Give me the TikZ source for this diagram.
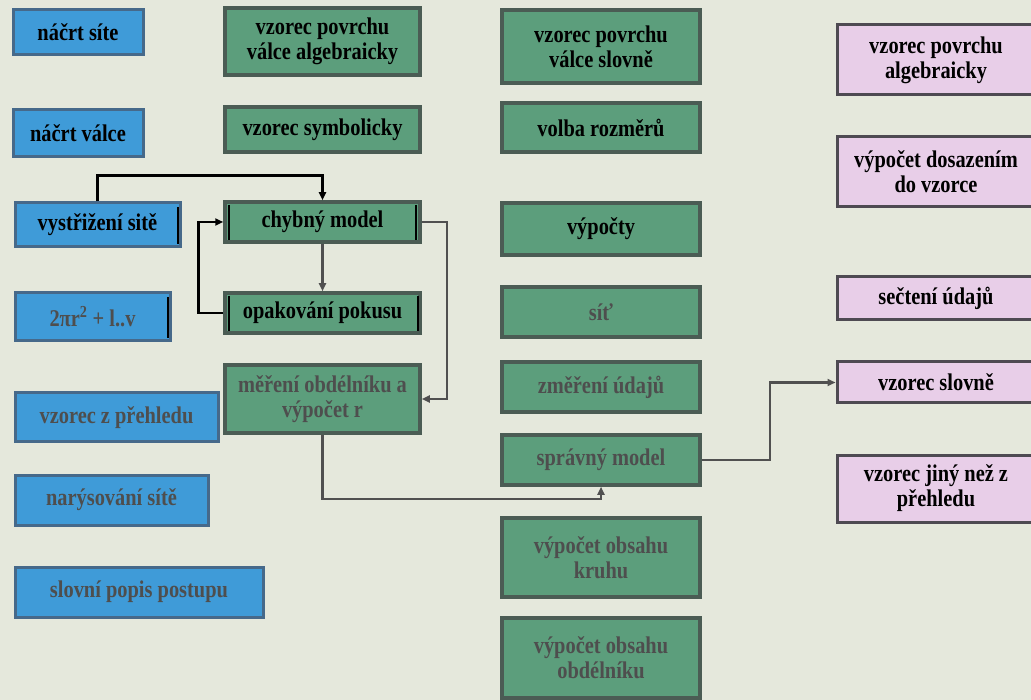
\documentclass[tikz,border=0pt]{standalone}
\usepackage{fontspec}
\setmainfont{Liberation Serif}[FakeStretch=0.85]
\usetikzlibrary{arrows.meta}
\definecolor{paper}{HTML}{E5E8DC}
\definecolor{boxblue}{HTML}{3F9BD8}
\definecolor{blueedge}{HTML}{46698A}
\definecolor{boxgreen}{HTML}{5C9E7C}
\definecolor{greenedge}{HTML}{4B5C54}
\definecolor{boxlilac}{HTML}{E8CEE8}
\definecolor{lilacedge}{HTML}{4E4A52}
\definecolor{fadedtext}{HTML}{4E4E4E}
\definecolor{linkgray}{HTML}{505050}
\begin{document}
\begin{tikzpicture}[x=1pt,y=-1pt,
  box/.style={draw, line width=3pt, inner sep=0pt, align=center,
    font=\fontsize{24}{25}\selectfont\bfseries, text=black},
  bluebox/.style={box, fill=boxblue, draw=blueedge},
  greenbox/.style={box, fill=boxgreen, draw=greenedge, line width=3.5pt},
  lilacbox/.style={box, fill=boxlilac, draw=lilacedge},
  faded/.style={text=fadedtext},
  link/.style={line width=2.5pt, draw=linkgray, -{Triangle[length=8pt,width=7pt]}},
  darklink/.style={link, draw=black},
  tick/.style={line width=2.5pt, draw=black}
]
\clip (0,0) rectangle (1031,700);
\fill[paper] (0,0) rectangle (1031,700);

% left column (blue)
\node[bluebox, minimum width=130pt, minimum height=45pt] (b1) at (78,32.5) {náčrt síte};
\node[bluebox, minimum width=130pt, minimum height=47pt] (b2) at (78,133.5) {náčrt válce};
\node[bluebox, minimum width=165pt, minimum height=44pt] (b3) at (97.5,225) {vystřižení sitě};
\node[bluebox, faded, minimum width=155pt, minimum height=48pt] (b4) at (92.5,317) {2πr\textsuperscript{2} + l..v};
\node[bluebox, faded, minimum width=203pt, minimum height=49pt] (b5) at (116.5,417.5) {vzorec z přehledu};
\node[bluebox, faded, minimum width=193pt, minimum height=50pt] (b6) at (111.5,500) {narýsování sítě};
\node[bluebox, faded, minimum width=248pt, minimum height=50pt] (b7) at (139,592) {slovní popis postupu};

% second column (green)
\node[greenbox, minimum width=195pt, minimum height=67pt] (g1) at (322.5,41.5) {vzorec povrchu\\válce algebraicky};
\node[greenbox, minimum width=195pt, minimum height=45pt] (g2) at (322.5,129.5) {vzorec symbolicky};
\node[greenbox, minimum width=195pt, minimum height=40pt] (g3) at (322.5,222) {chybný model};
\node[greenbox, minimum width=195pt, minimum height=40pt] (g4) at (322.5,313) {opakování pokusu};
\node[greenbox, faded, minimum width=195pt, minimum height=68pt] (g5) at (322.5,399) {měření obdélníku a\\výpočet r};

% third column (green)
\node[greenbox, minimum width=198pt, minimum height=73pt] (h1) at (601,46.5) {vzorec povrchu\\válce slovně};
\node[greenbox, minimum width=198pt, minimum height=49pt] (h2) at (601,127.5) {volba rozměrů};
\node[greenbox, minimum width=198pt, minimum height=52pt] (h3) at (601,229) {výpočty};
\node[greenbox, faded, minimum width=198pt, minimum height=50pt] (h4) at (601,312) {síť};
\node[greenbox, faded, minimum width=198pt, minimum height=50pt] (h5) at (601,387) {změření údajů};
\node[greenbox, faded, minimum width=198pt, minimum height=50pt] (h6) at (601,460) {správný model};
\node[greenbox, faded, minimum width=198pt, minimum height=79pt] (h7) at (601,557.5) {výpočet obsahu\\kruhu};
\node[greenbox, faded, minimum width=198pt, minimum height=80pt] (h8) at (601,658) {výpočet obsahu\\obdélníku};

% right column (lilac)
\node[lilacbox, minimum width=198pt, minimum height=70pt] (p1) at (936,60) {vzorec povrchu\\algebraicky};
\node[lilacbox, minimum width=198pt, minimum height=70pt] (p2) at (936,172) {výpočet dosazením\\do vzorce};
\node[lilacbox, minimum width=198pt, minimum height=43pt] (p3) at (936,298.5) {sečtení údajů};
\node[lilacbox, minimum width=198pt, minimum height=41pt] (p4) at (936,382.5) {vzorec slovně};
\node[lilacbox, minimum width=198pt, minimum height=67pt] (p5) at (936,488.5) {vzorec jiný než z\\přehledu};

% connectors
\draw[darklink] (b3.north) -- ++(0,-26) -| (g3.north);
\draw[darklink] (g4.west) -- ++(-25,0) |- (g3.west);
\draw[link] (g3.south) -- (g4.north);
\draw[link] (g3.east) -- ++(25,0) |- (g5.east);
\draw[link] (g5.south) -- ++(0,64) -| (h6.south);
\draw[link] (h6.east) -- ++(68,0) |- (p4.west);

% dark bars along some box edges
\draw[tick] (178,207) -- (178,244);
\draw[tick] (168,297) -- (168,338);
\draw[tick] (229,205) -- (229,240);
\draw[tick] (416,205) -- (416,240);
\draw[tick] (229,296) -- (229,331);
\draw[tick] (418,296) -- (418,331);
\end{tikzpicture}
\end{document}
